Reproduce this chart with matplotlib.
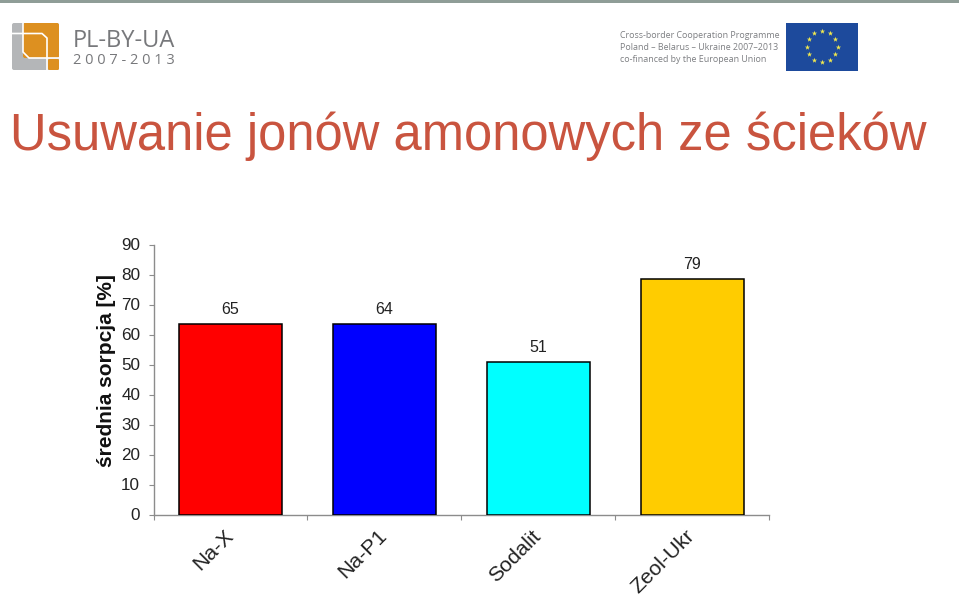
import numpy as np
import matplotlib
matplotlib.use('Agg')
import matplotlib.pyplot as plt
from matplotlib.patches import Rectangle, FancyBboxPatch

# chart data
categories = ['Na-X', 'Na-P1', 'Sodalit', 'Zeol-Ukr']
values = [63.6, 63.5, 50.7, 78.5]
value_labels = ['65', '64', '51', '79']
bar_colors = ['#ff0000', '#0000ff', '#00ffff', '#ffcc00']
y_ticks = list(range(0, 100, 10))

W, H = 959, 596
plt.rcParams['font.family'] = ['Liberation Sans', 'DejaVu Sans']

fig = plt.figure(figsize=(W / 100, H / 100), dpi=100)

# slide layer, works in pixels of the picture
bg = fig.add_axes([0, 0, 1, 1])
bg.set_xlim(0, W)
bg.set_ylim(H, 0)
bg.axis('off')

bg.add_patch(Rectangle((0, 0), W, 2.5, fc='#8f9d97', ec='none'))

# PL-BY-UA logo
bg.add_patch(FancyBboxPatch((12, 23), 47, 47, boxstyle='round,pad=0,rounding_size=2', fc='#b4b6b8', ec='none'))
bg.add_patch(FancyBboxPatch((23, 23), 36, 35, boxstyle='round,pad=0,rounding_size=2', fc='#dd9020', ec='none'))
bg.add_patch(FancyBboxPatch((48, 59), 11, 11, boxstyle='round,pad=0,rounding_size=1.5', fc='#dd9020', ec='none'))
bg.plot([12, 42, 47, 47], [33.5, 33.5, 38, 70], color='white', lw=1.2)
bg.plot([23, 23, 29, 59], [23, 52, 58, 58], color='white', lw=1.2)
bg.text(73, 41, 'PL-BY-UA', fontsize=17, color='#77787b', family='Open Sans', va='center', ha='left')
bg.text(73, 60, '2 0 0 7 - 2 0 1 3', fontsize=10.5, color='#77787b', family='Open Sans', va='center', ha='left')

# programme text and EU flag
programme_lines = ['Cross-border Cooperation Programme', 'Poland – Belarus – Ukraine 2007–2013',
                   'co-financed by the European Union']
for i, line in enumerate(programme_lines):
    bg.text(620, 35 + i * 12, line, fontsize=6.4, color='#7d7f82', family='Open Sans', va='center', ha='left')
bg.add_patch(Rectangle((786, 23), 72, 47.5, fc='#1d4a9c', ec='none'))
angles = np.arange(12) * np.pi / 6
bg.scatter(822 + 15.5 * np.sin(angles), 46.5 - 15.5 * np.cos(angles), marker='*', s=16, color='#f2e94e', linewidths=0)

bg.text(10, 136, 'Usuwanie jonów amonowych ze ścieków', fontsize=36.5, color='#c9543f', va='center', ha='left')

# bar chart
ax = fig.add_axes([153.5 / W, 1 - 514.5 / H, 615.5 / W, 270 / H])
x = np.arange(len(categories))
ax.bar(x, values, width=0.67, color=bar_colors, edgecolor='black', linewidth=1.1, zorder=3)
for xi, v, lab in zip(x, values, value_labels):
    ax.annotate(lab, (xi, v), xytext=(0, 5), textcoords='offset points', ha='center', va='bottom',
                fontsize=11.5, color='#222222')

ax.set_xlim(-0.5, len(categories) - 0.5)
ax.set_ylim(0, 90)
ax.set_yticks(y_ticks)
ax.set_xticks(np.arange(len(categories) + 1) - 0.5)
ax.set_xticklabels([])
for s in ['top', 'right']:
    ax.spines[s].set_visible(False)
for s in ['left', 'bottom']:
    ax.spines[s].set_color('#8c8c8c')
    ax.spines[s].set_linewidth(1)
ax.tick_params(axis='y', direction='out', length=3.6, color='#8c8c8c', labelsize=12.3, labelcolor='#222222', pad=6)
ax.tick_params(axis='x', direction='out', length=3.6, color='#8c8c8c')

# rotated category labels
for xi, c in zip(x, categories):
    ax.annotate(c, (xi, 0), xytext=(-5, -8.5), textcoords='offset points', rotation=45, rotation_mode='anchor',
                ha='right', va='top', fontsize=15.2, color='#222222')

bg.text(106, 371, 'średnia sorpcja [%]', rotation=90, fontsize=15, fontweight='bold', color='#111111',
        ha='center', va='center')

fig.savefig('out.png', dpi=100)
